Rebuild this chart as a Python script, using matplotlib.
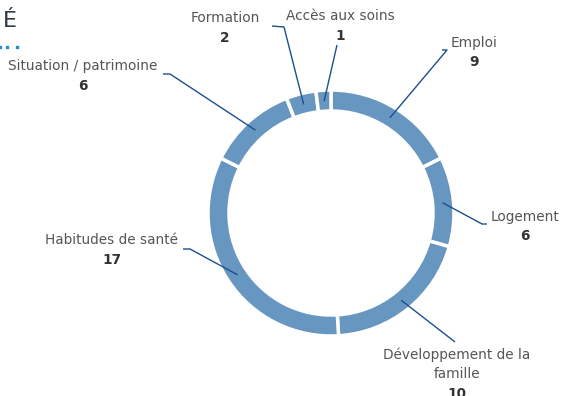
import numpy as np
import matplotlib
matplotlib.use("Agg")
import matplotlib.pyplot as plt
import textwrap

categories = ["Emploi", "Logement", "Développement de la famille", "Habitudes de santé",
              "Situation / patrimoine", "Formation", "Accès aux soins"]
values = [9, 6, 10, 17, 6, 2, 1]

# layout (pixel coordinates, y from top)
W, H = 561, 396
cx, cy, R = 331, 213, 123
ring = 21
label_pos = [(474, 43), (525, 217), (457, 355), (112, 240), (83, 66), (225, 18), (340, 16)]
elbows = [[(447, 50), (442, 50)], [(482, 224), (487, 224)], [(455, 342)],
          [(190, 249), (183, 249)], [(170, 74), (163, 74)], [(284, 27), (272, 26)], [(337, 45)]]

fig = plt.figure(figsize=(W / 100, H / 100), dpi=100)
ax = fig.add_axes([0, 0, 1, 1])
ax.set_xlim(0, W)
ax.set_ylim(0, H)
ax.set_aspect("equal")
ax.axis("off")

fc = "#6796c1"
wedges, _ = ax.pie(values, startangle=90, counterclock=False, radius=R, center=(cx, H - cy),
                   colors=[fc] * len(values),
                   wedgeprops=dict(width=ring, edgecolor="white", linewidth=2.5))
ax.set_xlim(0, W)
ax.set_ylim(0, H)

total = sum(values)
cum = 0
font = "DejaVu Sans"
for i, (cat, v) in enumerate(zip(categories, values)):
    mid = (cum + v / 2) / total * 2 * np.pi
    cum += v
    rs = R - 11
    sx = cx + rs * np.sin(mid)
    sy = cy - rs * np.cos(mid)
    pts = [(sx, sy)] + elbows[i]
    xs = [p[0] for p in pts]
    ys = [H - p[1] for p in pts]
    ax.plot(xs, ys, color="#1b4f8e", lw=1.0, solid_capstyle="butt")
    lx, ly = label_pos[i]
    lines = textwrap.wrap(cat, 22)
    for k, line in enumerate(lines):
        ax.text(lx, H - (ly + 19.5 * k), line, ha="center", va="center", fontsize=9.8,
                color="#555555", family=font)
    ax.text(lx, H - (ly + 19.5 * len(lines)), str(v), ha="center", va="center", fontsize=9.8,
            fontweight="bold", color="#333333", family=font)

# cropped title fragment
ax.text(3, H - 21, "É", ha="left", va="center", fontsize=16, color="#2d3a45", family=font)
ax.scatter([0, 7, 17], [H - 47] * 3, s=4, color="#2a8bc9", marker="s")

fig.savefig("out.png", dpi=100)
